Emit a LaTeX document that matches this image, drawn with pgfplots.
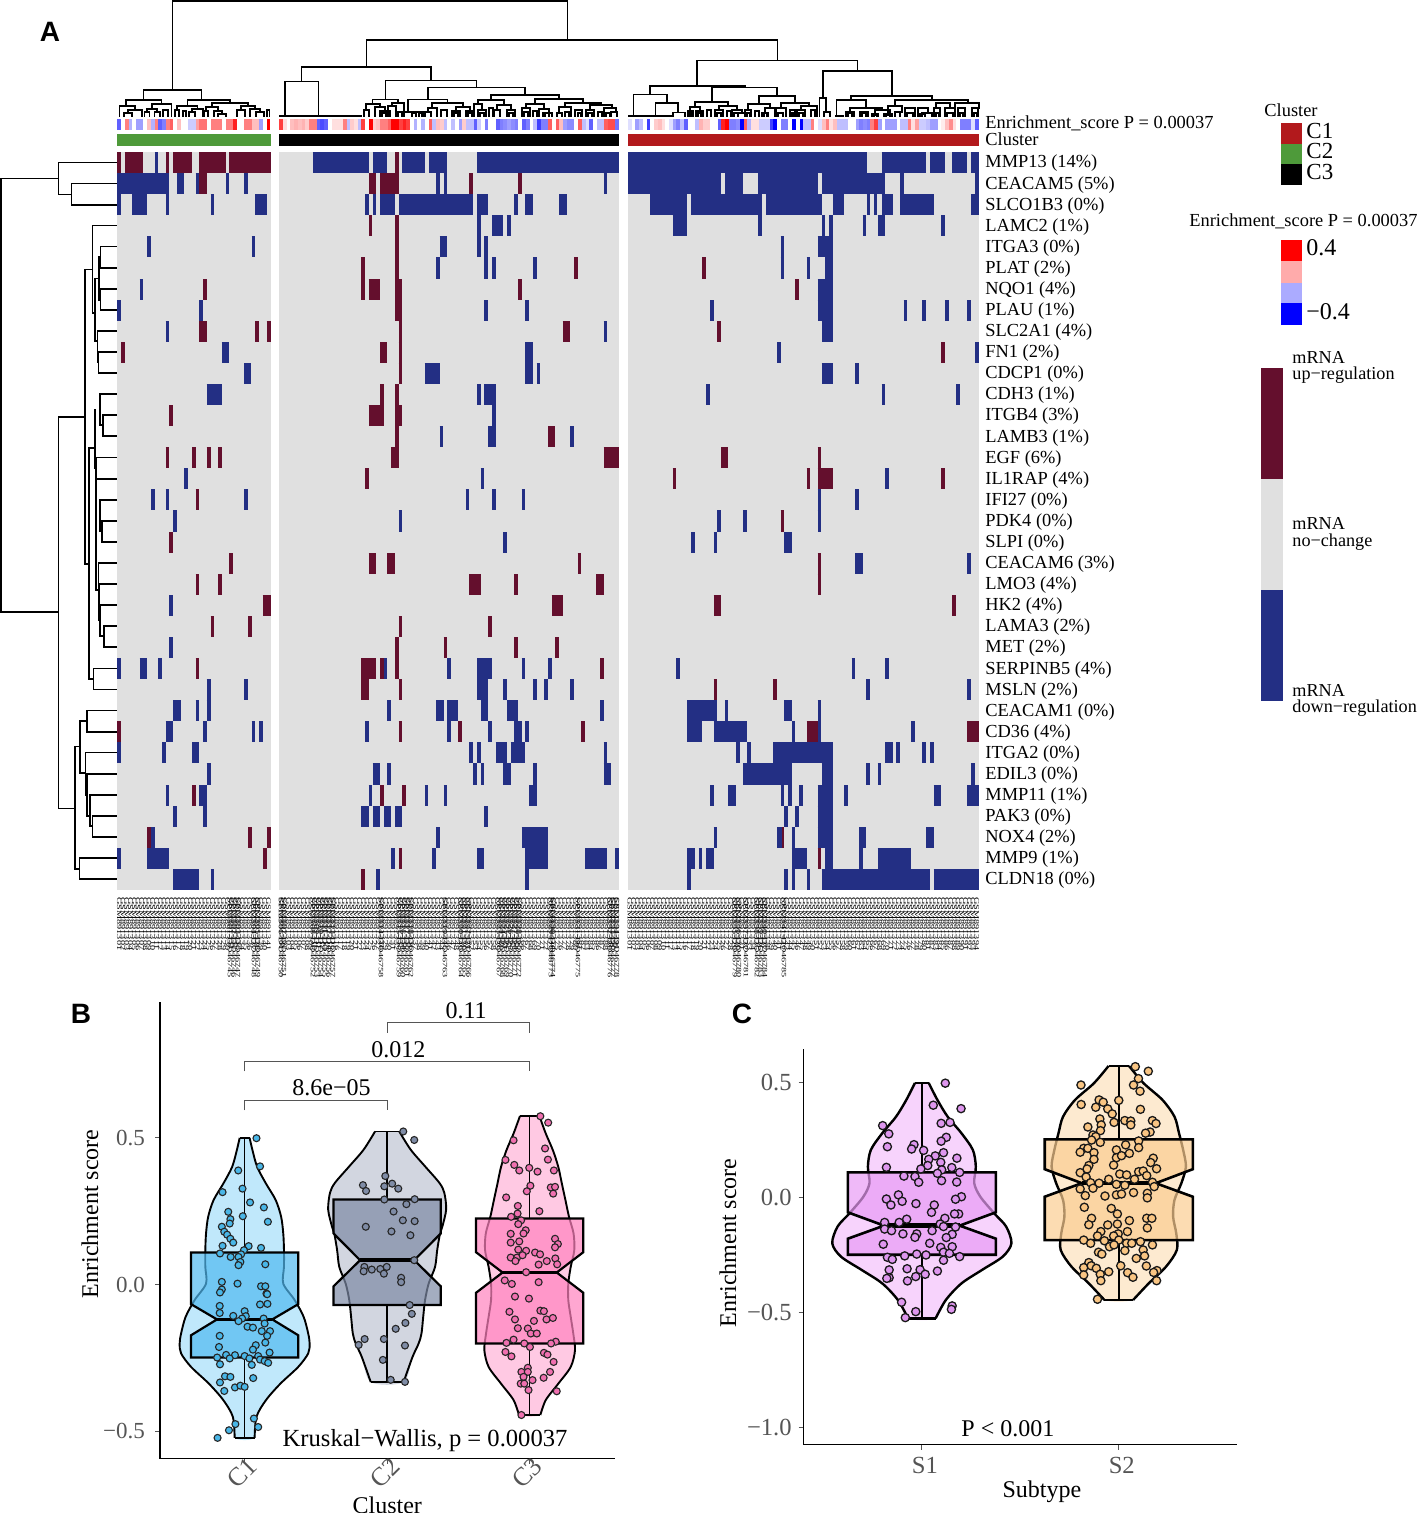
\documentclass[border=0pt]{standalone}
\usepackage{fontspec}
\setmainfont{Liberation Serif}
\newfontfamily\lettersf{Liberation Sans}
\usepackage{pgfplots}
\usepackage{pgfplotstable}
\pgfplotsset{compat=1.18}

\definecolor{dn}{RGB}{35,47,132}
\definecolor{up}{RGB}{100,15,45}
\definecolor{cellbg}{RGB}{224,224,224}
\definecolor{cC1}{RGB}{178,25,28}
\definecolor{cC2}{RGB}{78,154,58}
\definecolor{tickgray}{RGB}{85,85,85}
\definecolor{vA}{RGB}{192,232,251}
\definecolor{bA}{RGB}{80,185,240}
\definecolor{pA}{RGB}{73,182,231}
\definecolor{vB}{RGB}{210,214,224}
\definecolor{bB}{RGB}{125,138,165}
\definecolor{pB}{RGB}{127,140,166}
\definecolor{vC}{RGB}{255,201,227}
\definecolor{bC}{RGB}{255,130,190}
\definecolor{pC}{RGB}{240,112,176}
\definecolor{vS}{RGB}{247,211,252}
\definecolor{bS}{RGB}{232,155,245}
\definecolor{pS}{RGB}{222,150,238}
\definecolor{vT}{RGB}{253,234,208}
\definecolor{bT}{RGB}{251,205,145}
\definecolor{pT}{RGB}{249,197,131}

% heatmap segments: row, from, to (x in thirds of a reference pixel)
\pgfplotstableread[row sep=crcr]{
r a b\\
0 464 475\\0 938 1106\\0 1118 1162\\0 1207 1274\\0 1286 1341\\0 1431 1500\\
1 352 508\\1 531 553\\1 587 598\\1 677 688\\1 733 744\\1 1308 1320\\1 1331 1342\\
2 352 363\\2 397 441\\2 497 508\\2 632 643\\2 766 800\\2 1095 1106\\2 1118 1128\\2 1140 1185\\2 1196 1420\\2 1431 1464\\
3 1431 1442\\3 1476 1500\\
4 441 452\\4 755 766\\4 1319 1341\\4 1431 1442\\4 1453 1464\\
5 1308 1319\\5 1453 1464\\5 1476 1487\\
6 419 430\\
7 352 363\\7 598 609\\7 1453 1464\\
8 497 508\\
9 665 687\\
10 732 754\\10 1274 1319\\
11 620 665\\11 1431 1442\\11 1453 1487\\
12 1476 1487\\
13 1319 1330\\13 1464 1487\\
15 553 564\\15 1442 1453\\
16 453 464\\16 497 508\\16 733 744\\16 1397 1408\\16 1476 1487\\
17 520 531\\17 1196 1207\\
21 508 520\\
23 508 520\\
24 352 363\\24 419 441\\24 475 486\\24 1151 1162\\24 1342 1353\\24 1431 1476\\
25 620 632\\25 733 744\\25 1431 1464\\
26 520 542\\26 587 598\\26 620 632\\26 1162 1173\\26 1308 1331\\26 1342 1375\\26 1442 1464\\
27 497 520\\27 610 620\\27 755 766\\27 777 788\\27 1095 1106\\27 1342 1353\\27 1464 1476\\
28 352 363\\28 486 497\\28 576 598\\28 1408 1419\\28 1431 1442\\28 1487 1500\\
29 620 632\\29 1118 1140\\29 1162 1173\\29 1420 1431\\29 1442 1453\\
30 497 508\\30 598 620\\30 1106 1117\\30 1274 1285\\30 1331 1341\\
31 520 531\\31 610 620\\31 1084 1106\\31 1118 1140\\31 1151 1173\\31 1185 1207\\31 1453 1464\\
32 453 464\\32 1308 1319\\
33 352 363\\33 441 508\\33 1173 1185\\33 1297 1308\\33 1431 1453\\
34 520 598\\34 632 643\\34 1128 1140\\
}\dnL
\pgfplotstableread[row sep=crcr]{
r a b\\
0 352 363\\0 374 430\\0 497 508\\0 520 576\\0 598 677\\0 688 812\\0 1185 1196\\
1 598 620\\1 1106 1128\\1 1140 1196\\1 1408 1420\\
3 1106 1117\\3 1185 1196\\
4 1185 1196\\
5 1084 1095\\5 1185 1196\\
6 610 620\\6 1084 1095\\6 1106 1140\\6 1185 1207\\
7 1185 1207\\
8 598 620\\8 766 777\\8 800 812\\8 1196 1207\\
9 363 374\\9 1140 1162\\9 1196 1207\\
10 1196 1207\\
11 1140 1151\\11 1185 1196\\
12 508 520\\12 1106 1151\\12 1185 1207\\
13 1185 1196\\
14 497 508\\14 576 587\\14 620 632\\14 654 665\\14 1173 1196\\
15 1095 1106\\
16 587 598\\
18 508 520\\
19 688 699\\19 1106 1128\\19 1162 1185\\
20 587 598\\20 654 665\\20 1408 1442\\
21 788 812\\
22 632 643\\22 744 755\\22 1196 1207\\22 1464 1476\\
23 1185 1196\\23 1331 1341\\
24 587 598\\24 1084 1128\\24 1140 1151\\24 1185 1196\\
25 1084 1106\\25 1196 1207\\
27 352 363\\27 1196 1207\\27 1375 1386\\
30 576 587\\30 1140 1151\\30 1207 1218\\
32 441 453\\32 744 755\\32 800 812\\
33 788 800\\33 1196 1207\\
34 1084 1095\\
}\upL
\pgfplotstableread[row sep=crcr]{
r a b\\
0 0 357\\0 384 1100\\0 1145 1278\\0 1290 1335\\0 1357 1402\\0 1413 1436\\
1 311 322\\1 384 663\\1 675 730\\1 775 953\\1 965 1155\\1 1200 1212\\1 1425 1436\\
2 43 54\\2 76 98\\2 177 200\\2 450 562\\2 574 786\\2 797 965\\2 998 1032\\2 1100 1110\\2 1122 1132\\2 1145 1178\\2 1200 1301\\2 1413 1436\\
3 0 9\\3 20 32\\3 518 562\\3 775 786\\3 965 975\\3 988 998\\3 1088 1099\\3 1133 1155\\3 1323 1334\\
4 842 853\\4 953 998\\
5 99 110\\5 842 853\\5 920 931\\5 976 998\\
6 953 998\\
7 76 87\\7 630 641\\7 953 998\\7 1211 1222\\7 1267 1278\\7 1335 1346\\7 1402 1413\\
8 311 322\\8 965 998\\
9 76 98\\9 831 842\\9 1425 1436\\
10 76 98\\10 110 121\\10 965 998\\10 1066 1077\\
11 618 629\\11 1145 1155\\11 1368 1379\\
13 211 222\\
15 1155 1166\\
16 65 76\\16 953 964\\16 1066 1077\\
17 652 663\\17 730 741\\17 953 964\\
18 9 20\\18 574 585\\18 641 652\\18 853 875\\
19 1066 1088\\19 1402 1413\\
24 65 76\\24 144 155\\24 529 540\\24 1055 1066\\24 1155 1166\\
25 9 20\\25 99 110\\25 132 143\\25 211 222\\25 1099 1110\\25 1402 1413\\
26 20 54\\26 300 311\\26 562 650\\26 675 685\\26 853 875\\26 953 964\\
27 43 65\\27 76 87\\27 562 607\\27 641 741\\27 875 886\\27 953 964\\27 1234 1245\\
28 0 20\\28 32 76\\28 311 322\\28 708 719\\28 741 752\\28 820 998\\28 1155 1178\\28 1189 1200\\28 1267 1278\\28 1290 1301\\
29 9 32\\29 99 110\\29 311 334\\29 730 875\\29 965 998\\29 1099 1110\\29 1133 1144\\29 1413 1424\\
30 87 110\\30 630 641\\30 685 708\\30 842 853\\30 864 875\\30 897 908\\30 953 998\\30 1032 1043\\30 1301 1323\\30 1402 1436\\
31 853 864\\31 886 897\\31 953 998\\
32 65 144\\32 641 652\\32 831 845\\32 875 886\\32 953 998\\32 1077 1099\\32 1278 1301\\
33 76 144\\33 255 322\\33 345 357\\33 562 584\\33 596 607\\33 618 641\\33 875 920\\33 976 998\\33 1077 1088\\33 1133 1234\\
34 76 87\\34 562 574\\34 853 864\\34 875 886\\34 920 931\\34 965 1290\\34 1301 1436\\
}\dnR
\pgfplotstableread[row sep=crcr]{
r a b\\
1 54 65\\
5 222 233\\5 607 618\\
6 54 65\\6 886 897\\
8 188 211\\8 652 663\\
9 1323 1334\\
13 144 166\\
14 311 357\\14 663 685\\14 953 964\\
15 518 528\\15 920 931\\15 953 998\\15 1323 1334\\
17 842 853\\
19 233 244\\19 953 964\\
20 43 54\\20 289 311\\20 953 964\\
21 155 188\\21 641 663\\21 1357 1368\\
23 43 54\\23 166 177\\
24 300 311\\
25 641 652\\25 820 831\\
27 244 255\\27 920 953\\27 1402 1436\\
32 845 853\\
33 953 964\\
}\upR

% column dendrogram forks: left x, right x, bar y, end y of left leg, end y of right leg
\pgfplotstableread[row sep=crcr]{
a b t p q\\
172.3 567.3 1 90 40\\
143.3 201.7 90 100 100\\126 161.7 100 106 104\\119.5 135 106 116.5 110\\128 142 110 113 116.5\\124 132 113 116.5 116.5\\
152 171.7 104 109 116.5\\147 157 109 112 112\\144.5 149.5 112 116.5 116.5\\154.5 160 112 116.5 116.5\\163 168 110 116.5 116.5\\
187.3 230 100 106 103\\177 197.5 106 110 109\\175 179 110 116.5 116.5\\192 203 109 112 116.5\\189 195 112 116.5 116.5\\183 186 111 116.5 116.5\\
212 248 103 107 106\\206 218 107 111 111\\204 208 111 116.5 116.5\\214 222 111 116.5 114\\218 226 114 116.5 116.5\\
241 255 106 110 109\\237 245 110 116.5 116.5\\250 260 109 116.5 112\\256 264 112 116.5 116.5\\267 269.5 110 116.5 116.5\\
366.5 777.7 40 67 60.5\\301.5 431 67 81.7 80.5\\285 318.6 81.7 116 116\\280 312 116 116 116\\314 361.7 116 116 116\\
385.7 476.6 80.5 99.5 87.5\\372.7 398 99.5 104 103\\366 380 104 110 107\\364 369 110 116.5 116.5\\375 385 107 116.5 111\\380 390 111 116.5 116.5\\392 404 103 106 116.5\\388 396 106 116.5 116.5\\
428 525 87.5 99.5 95\\408 447.6 99.5 112 103\\404.5 424 112 116.5 116.5\\432 463 103 108 107\\428 437 108 112 116.5\\425 431 112 116.5 116.5\\441 447 110 116.5 116.5\\456 470 107 111 111\\452 460 111 116.5 116.5\\466 474 111 116.5 116.5\\
491 559 95 100 99\\478 504 100 104 105\\474 482 104 116.5 110\\478 486 110 116.5 116.5\\497 511 105 110 110\\494 500 110 116.5 116.5\\507 515 110 116.5 116.5\\489 493 108 116.5 116.5\\
535 583 99 104 103\\526 544 104 108 109\\522 530 108 116.5 116.5\\539 549 109 116.5 113\\543 552 113 116.5 116.5\\565 601 103 107 105\\559 571 107 113 116.5\\557 562 113 116.5 116.5\\
590 612 105 110 108\\586 594 110 116.5 116.5\\604 616 108 116.5 112\\611 617 112 116.5 116.5\\575 582 110 116.5 116.5\\598 602 112 116.5 116.5\\
697 857.7 60.5 86 71\\650 745 86 94.5 87.5\\633.5 667 94.5 116 103\\629 649 116 116 116\\655.7 678 103 116 112.7\\651 672 116 116 116\\673 685 112.7 116.5 116.5\\
712 777 87.5 102 96\\695 728 102 107 106\\690 700 107 111 111\\688 693 111 116.5 116.5\\696 703 111 116.5 116.5\\719 737 106 110 110\\715 723 110 116.5 116.5\\732 742 110 116.5 113\\738 745 113 116.5 116.5\\707 711 110 116.5 116.5\\
759 795 96 104 103\\748 770 104 110 108\\745 751 110 116.5 116.5\\765 775 108 113 116.5\\762 768 113 116.5 116.5\\781 809 103 108 106\\776 786 108 116.5 116.5\\801 817 106 110 116.5\\797 805 110 116.5 116.5\\790 795 110 116.5 116.5\\811 815 110 116.5 116.5\\
823 892 71 98 96\\819.5 826 98 116.5 112\\824 830 112 116.5 116.5\\851 932 96 100 100\\836.7 866 100 116 108\\836 843 116 116 116\\850 882 108 112 110\\846 854 112 116.5 116.5\\875 890 110 114 114\\872 878 114 116.5 116.5\\884 892 114 116.5 116.5\\860 868 112 116.5 116.5\\
895 968 100 106 103\\888 902 106 112 112\\895 900 112 116.5 116.5\\905 915 108 116.5 116.5\\918 928 108 116.5 113\\922 932 113 116.5 116.5\\936 950 103 108 108\\934 940 108 116.5 116.5\\945 955 108 116.5 116.5\\955 979 103 108 108\\958 965 108 116.5 116.5\\972 978 108 116.5 116.5\\
382 386 113 116.5 116.5\\398 402 112 116.5 116.5\\412 416 113 116.5 116.5\\419 422 113 116.5 116.5\\454 458 113 116.5 116.5\\468 472 113 116.5 116.5\\480 484 113 116.5 116.5\\509 513 113 116.5 116.5\\524 528 112 116.5 116.5\\533 537 111 116.5 116.5\\545 549 113 116.5 116.5\\565 569 112 116.5 116.5\\578 581 113 116.5 116.5\\588 592 113 116.5 116.5\\606 610 113 116.5 116.5\\
690 692 113 116.5 116.5\\698 701 113 116.5 116.5\\717 721 113 116.5 116.5\\727 731 111 116.5 116.5\\734 738 113 116.5 116.5\\747 750 113 116.5 116.5\\755 759 111 116.5 116.5\\764 767 113 116.5 116.5\\778 783 113 116.5 116.5\\792 794 113 116.5 116.5\\799 803 113 116.5 116.5\\848 852 113 116.5 116.5\\862 866 113 116.5 116.5\\874 877 115 116.5 116.5\\886 890 115 116.5 116.5\\907 913 113 116.5 116.5\\920 925 114 116.5 116.5\\936 939 113 116.5 116.5\\947 953 113 116.5 116.5\\960 963 113 116.5 116.5\\974 977 113 116.5 116.5\\
}\topfork

% row dendrogram forks: upper y, lower y, bar x, end x of upper leg, end x of lower leg
\pgfplotstableread[row sep=crcr]{
a b t p q\\
178.7 612 1 58.5 58.5\\
162.7 194.7 58.5 117.5 71.7\\
183.7 204.8 71.7 117.5 117.5\\
417 808.3 58.5 85 75\\
269.3 564 85 92.7 89\\
225.7 313 92.7 117.5 95\\
278.3 341 95 99 97.5\\
257 300 99 100.5 100.5\\
246.7 267.8 100.5 117.5 117.5\\
289 310 100.5 117.5 117.5\\
331 362.5 97.5 117.5 98.5\\
352 373 98.5 117.5 117.5\\
448 679 89 95 93.7\\
668.7 689.7 93.7 117.5 117.5\\
410 468 95 95.5 96\\
394 425 100 117.5 103\\
415 436 103 117.5 117.5\\
457.7 479 96 117.5 117.5\\
468 590 96 96.5 98\\
500 531 100 117.5 102\\
521 542 102 117.5 117.5\\
563 600 98.5 117.5 99\\
584 620 99 117.5 100\\
605 636 100 117.5 104\\
626 647 104 117.5 117.5\\
746.7 869 75 80 79.3\\
721 773 80 87 85.7\\
710.7 731.8 87 117.5 117.5\\
752.7 795 85.7 117.5 87\\
774 816 87 117.5 90\\
795 826 90 117.5 92.7\\
816 837 92.7 117.5 117.5\\
858 879 79.3 117.5 117.5\\
}\leftfork

% violin outlines: value, signed half width, down one side and up the other
\pgfplotstableread[row sep=crcr]{
v h\\.500 .035\\.458 .055\\.401 .088\\.344 .150\\.288 .218\\.231 .256\\.174 .271\\.117 .276\\.060 .276\\.003 .271\\-.053 .351\\-.110 .414\\-.167 .446\\-.201 .456\\-.235 .446\\-.281 .376\\-.338 .251\\-.394 .150\\-.451 .083\\-.523 .070\\
-.523 -.070\\-.451 -.083\\-.394 -.150\\-.338 -.251\\-.281 -.376\\-.235 -.446\\-.201 -.456\\-.167 -.446\\-.110 -.414\\-.053 -.351\\.003 -.271\\.060 -.276\\.117 -.276\\.174 -.271\\.231 -.256\\.288 -.218\\.344 -.150\\.401 -.088\\.458 -.055\\.500 -.035\\
}\vioA
\pgfplotstableread[row sep=crcr]{
v h\\.522 .085\\.460 .165\\.403 .266\\.347 .366\\.313 .401\\.256 .414\\.199 .388\\.174 .371\\.117 .351\\.060 .336\\.003 .291\\-.053 .266\\-.110 .253\\-.167 .241\\-.201 .221\\-.247 .178\\-.333 .115\\
-.333 -.115\\-.247 -.178\\-.201 -.221\\-.167 -.241\\-.110 -.253\\-.053 -.266\\.003 -.291\\.060 -.336\\.117 -.351\\.174 -.371\\.199 -.388\\.256 -.414\\.313 -.401\\.347 -.366\\.403 -.266\\.460 -.165\\.522 -.085\\
}\vioB
\pgfplotstableread[row sep=crcr]{
v h\\.575 .068\\.515 .113\\.458 .163\\.401 .201\\.344 .226\\.288 .251\\.231 .276\\.174 .308\\.117 .313\\.060 .288\\.003 .271\\-.053 .271\\-.110 .288\\-.167 .306\\-.224 .318\\-.281 .288\\-.338 .201\\-.394 .113\\-.445 .075\\
-.445 -.075\\-.394 -.113\\-.338 -.201\\-.281 -.288\\-.224 -.318\\-.167 -.306\\-.110 -.288\\-.053 -.271\\.003 -.271\\.060 -.288\\.117 -.313\\.174 -.308\\.231 -.276\\.288 -.251\\.344 -.226\\.401 -.201\\.458 -.163\\.515 -.113\\.575 -.068\\
}\vioC
\pgfplotstableread[row sep=crcr]{
v h\\.500 .035\\.426 .079\\.353 .131\\.281 .201\\.208 .259\\.135 .274\\.063 .266\\.004 .297\\-.068 .367\\-.126 .428\\-.199 .455\\-.257 .411\\-.315 .306\\-.374 .201\\-.446 .122\\-.526 .070\\
-.526 -.070\\-.446 -.122\\-.374 -.201\\-.315 -.306\\-.257 -.411\\-.199 -.455\\-.126 -.428\\-.068 -.367\\.004 -.297\\.063 -.266\\.135 -.274\\.208 -.259\\.281 -.201\\.353 -.131\\.426 -.079\\.500 -.035\\
}\vioS
\pgfplotstableread[row sep=crcr]{
v h\\.574 .052\\.499 .126\\.426 .222\\.353 .283\\.281 .306\\.208 .327\\.135 .341\\.063 .318\\-.010 .283\\-.083 .276\\-.156 .292\\-.228 .295\\-.301 .240\\-.374 .152\\-.446 .073\\
-.446 -.073\\-.374 -.152\\-.301 -.240\\-.228 -.295\\-.156 -.292\\-.083 -.276\\-.010 -.283\\.063 -.318\\.135 -.341\\.208 -.327\\.281 -.306\\.353 -.283\\.426 -.222\\.499 -.126\\.574 -.052\\
}\vioT

% fill first, then each side on its own so that the flat ends keep their corners
\newcommand{\violin}[4]{% centre, table, fill colour, line width
  \addplot[fill=#3,draw=none,smooth,tension=.5] table[x expr=#1+\thisrow{h},y=v]{#2} -- cycle;
  \addplot[draw=black,line width=#4,smooth,tension=.5,restrict expr to domain={\thisrow{h}}{0:1}] table[x expr=#1+\thisrow{h},y=v]{#2};
  \addplot[draw=black,line width=#4,smooth,tension=.5,restrict expr to domain={\thisrow{h}}{-1:0}] table[x expr=#1+\thisrow{h},y=v]{#2};
}
\pgfplotsset{
  panel/.style={
    scale only axis,anchor=south west,
    axis lines=left,axis line style={-,line width=.75pt,black},
    tick align=outside,major tick length=2.5pt,tick style={tickgray,line width=.5pt},
    tick label style={text=tickgray},
    label style={font=\fontsize{12}{14}\selectfont},
    clip=false,
  },
  idaxis/.style={
    at={(0pt,311.5pt)},anchor=south west,scale only axis,width=709pt,height=10pt,
    xmin=0,xmax=1418,ymin=0,ymax=1,axis y line=none,axis x line*=bottom,
    axis line style={draw=none},major tick length=0pt,xticklabel shift=3.5pt,
    xticklabel style={rotate=-90,anchor=west,inner sep=0pt,text=black,font=\fontsize{3.3}{3.3}\selectfont},
  },
  strip/.style={
    scatter,only marks,mark=square*,mark size=1pt,point meta=explicit,
    mark options={xscale=.96,yscale=2.67,draw opacity=0},
    scatter/use mapped color={fill=mapped color},
  },
}
\newcommand{\idtext}{\scalebox{1.55}[1]{GSM89\number\numexpr1301+\ticknum\relax}}
\newcommand{\idlong}{\scalebox{1.55}[1]{SP\number\numexpr12301+\ticknum\relax-DO\number\numexpr46745+\ticknum\relax}}

\begin{document}
\begin{tikzpicture}
\path[use as bounding box] (0,0) rectangle (709pt,756.5pt);

% dendrograms, annotation strips, legends: reference pixel coordinates
\begin{axis}[
  at={(0pt,0pt)},anchor=south west,scale only axis,width=709pt,height=756.5pt,
  xmin=0,xmax=1418,ymin=0,ymax=1513,y dir=reverse,hide axis,clip=false,
  colormap={bwr}{rgb255=(0,0,255) rgb255=(255,255,255) rgb255=(255,0,0)},
  point meta min=-.4,point meta max=.4,
]
\addplot[black,line width=.75pt,line cap=rect,quiver={u=\thisrow{b}-\thisrow{a},v=0}] table[x=a,y=t]{\topfork};
\addplot[black,line width=.75pt,line cap=rect,quiver={u=0,v=\thisrow{p}-\thisrow{t}}] table[x=a,y=t]{\topfork};
\addplot[black,line width=.75pt,line cap=rect,quiver={u=0,v=\thisrow{q}-\thisrow{t}}] table[x=b,y=t]{\topfork};
\addplot[black,line width=.75pt,line cap=rect,quiver={u=0,v=\thisrow{b}-\thisrow{a}}] table[x=t,y=a]{\leftfork};
\addplot[black,line width=.75pt,line cap=rect,quiver={u=\thisrow{p}-\thisrow{t},v=0}] table[x=t,y=a]{\leftfork};
\addplot[black,line width=.75pt,line cap=rect,quiver={u=\thisrow{q}-\thisrow{t},v=0}] table[x=t,y=b]{\leftfork};

% enrichment score strip, one value for each sample
\addplot[strip]
  table[row sep=crcr,x expr=119.3+3.73*\coordindex,y expr=124.6,meta=m]{
m\\-.25\\0\\.2\\-.12\\0\\-.15\\-.15\\0\\.1\\-.12\\.2\\-.25\\-.2\\.2\\.25\\0\\.1\\0\\0\\-.08\\-.08\\.15\\.22\\.22\\0\\.2\\.2\\.2\\0\\.2\\.2\\.35\\0\\0\\.2\\.2\\.1\\.1\\-.15\\0\\.4\\
};
\addplot[strip]
  table[row sep=crcr,x expr=281.2+3.735*\coordindex,y expr=124.6,meta=m]{
m\\.3\\.05\\0\\.1\\.12\\.1\\.12\\.08\\.2\\.2\\-.25\\-.28\\-.25\\0\\.05\\.05\\.05\\.2\\-.1\\.08\\.05\\-.1\\.3\\0\\.4\\.08\\.1\\.2\\.2\\.25\\.4\\.4\\.3\\.35\\.3\\0\\-.12\\0\\-.12\\0\\.25\\-.1\\.1\\.08\\-.1\\0\\-.1\\0\\-.15\\.08\\-.1\\-.1\\-.25\\-.08\\0\\-.2\\0\\0\\-.25\\-.2\\-.18\\-.15\\-.18\\-.2\\0\\-.25\\-.2\\0\\-.1\\-.3\\-.2\\-.2\\.25\\0\\.25\\.1\\-.15\\-.18\\-.18\\0\\.25\\-.1\\-.05\\-.25\\0\\-.1\\-.1\\.25\\.28\\.28\\-.22\\
};
\addplot[strip]
  table[row sep=crcr,x expr=629.9+3.73*\coordindex,y expr=124.6,meta=m]{
m\\-.05\\0\\-.15\\-.1\\0\\-.3\\0\\.08\\.1\\.05\\0\\-.05\\-.15\\-.2\\-.1\\-.25\\0\\0\\-.1\\.12\\.08\\.08\\0\\0\\-.25\\.35\\.4\\-.2\\-.2\\-.18\\-.4\\.25\\-.12\\.05\\.05\\-.08\\-.08\\-.08\\-.3\\-.4\\0\\-.2\\-.2\\0\\-.4\\0\\-.4\\-.1\\-.1\\.2\\0\\-.05\\.1\\.2\\.05\\.1\\-.1\\-.1\\-.1\\0\\0\\-.15\\-.2\\-.18\\-.2\\.2\\.3\\-.15\\0\\-.15\\-.15\\-.15\\0\\-.1\\-.1\\.2\\.05\\.15\\-.08\\-.08\\-.1\\-.15\\-.15\\0\\.03\\.1\\.18\\.05\\0\\-.2\\-.2\\-.2\\-.05\\-.25\\
};

% cluster strip
\addplot[cC2,line width=5.7pt,quiver={u=\thisrow{w},v=0}] table[row sep=crcr,x=x,y=y]{x y w\\117.4 140 153.3\\};
\addplot[black,line width=5.7pt,quiver={u=\thisrow{w},v=0}] table[row sep=crcr,x=x,y=y]{x y w\\279.3 140 339.7\\};
\addplot[cC1,line width=5.7pt,quiver={u=\thisrow{w},v=0}] table[row sep=crcr,x=x,y=y]{x y w\\628 140 350.7\\};

\node[font=\fontsize{9.2}{10}\selectfont,anchor=west,inner sep=0pt] at (985,123.5) {Enrichment\_score P = 0.00037};
\node[font=\fontsize{9.2}{10}\selectfont,anchor=west,inner sep=0pt] at (985,139) {Cluster};

% legends
\node[font=\fontsize{9.2}{10}\selectfont] at (1291,110) {Cluster};
\fill[cC1] (1281,123.5) rectangle (1302,143.9);
\fill[cC2] (1281,143.9) rectangle (1302,164.3);
\fill[black] (1281,164.3) rectangle (1302,185.1);
\node[font=\fontsize{11.5}{12}\selectfont,anchor=west,inner sep=0pt] at (1306,131) {C1};
\node[font=\fontsize{11.5}{12}\selectfont,anchor=west,inner sep=0pt] at (1306,151) {C2};
\node[font=\fontsize{11.5}{12}\selectfont,anchor=west,inner sep=0pt] at (1306,172) {C3};
\node[font=\fontsize{9.2}{10}\selectfont,anchor=west,inner sep=0pt] at (1189,221.5) {Enrichment\_score P = 0.00037};
\fill[red] (1281,240.2) rectangle (1302,261.4);
\fill[red!33] (1281,261.4) rectangle (1302,282.7);
\fill[blue!33] (1281,282.7) rectangle (1302,303.5);
\fill[blue] (1281,303.5) rectangle (1302,324.7);
\node[font=\fontsize{12}{12}\selectfont,anchor=west,inner sep=0pt] at (1306,248) {0.4};
\node[font=\fontsize{12}{12}\selectfont,anchor=west,inner sep=0pt] at (1306,312) {−0.4};
\fill[up] (1261.3,367.6) rectangle (1283.3,478.6);
\fill[cellbg] (1261.3,478.6) rectangle (1283.3,589.6);
\fill[dn] (1261.3,589.6) rectangle (1283.3,701);
\node[font=\fontsize{9.1}{9}\selectfont,anchor=west,inner sep=0pt] at (1292,357.4) {mRNA};
\node[font=\fontsize{9.1}{9}\selectfont,anchor=west,inner sep=0pt] at (1292,375.5) {up−regulation};
\node[font=\fontsize{9.1}{9}\selectfont,anchor=west,inner sep=0pt] at (1292,523.8) {mRNA};
\node[font=\fontsize{9.1}{9}\selectfont,anchor=west,inner sep=0pt] at (1292,542) {no−change};
\node[font=\fontsize{9.1}{9}\selectfont,anchor=west,inner sep=0pt] at (1292,690.8) {mRNA};
\node[font=\fontsize{9.1}{9}\selectfont,anchor=west,inner sep=0pt] at (1292,708.6) {down−regulation};

\node[font=\lettersf\bfseries\fontsize{14}{16}\selectfont] at (50,32) {A};
\node[font=\lettersf\bfseries\fontsize{14}{16}\selectfont] at (81,1014) {B};
\node[font=\lettersf\bfseries\fontsize{14}{16}\selectfont] at (742,1014) {C};
\end{axis}

% heatmap
\begin{axis}[
  at={(0pt,311.5pt)},anchor=south west,scale only axis,width=489.5pt,height=369pt,
  xmin=0,xmax=2937,ymin=-.5,ymax=34.5,y dir=reverse,clip=false,
  axis x line=none,axis y line*=right,axis line style={draw=none},
  major tick length=0pt,xtick=\empty,ytick={0,...,34},
  yticklabels={MMP13 (14\%),CEACAM5 (5\%),SLCO1B3 (0\%),LAMC2 (1\%),ITGA3 (0\%),PLAT (2\%),NQO1 (4\%),PLAU (1\%),SLC2A1 (4\%),FN1 (2\%),CDCP1 (0\%),CDH3 (1\%),ITGB4 (3\%),LAMB3 (1\%),EGF (6\%),IL1RAP (4\%),IFI27 (0\%),PDK4 (0\%),SLPI (0\%),CEACAM6 (3\%),LMO3 (4\%),HK2 (4\%),LAMA3 (2\%),MET (2\%),SERPINB5 (4\%),MSLN (2\%),CEACAM1 (0\%),CD36 (4\%),ITGA2 (0\%),EDIL3 (0\%),MMP11 (1\%),PAK3 (0\%),NOX4 (2\%),MMP9 (1\%),CLDN18 (0\%)},
  yticklabel style={font=\fontsize{9.2}{10}\selectfont,inner sep=0pt,anchor=west,xshift=3pt,yshift=-.5pt},
]
\addplot[fill=cellbg,draw=none] coordinates {(352,-.5)(812,-.5)(812,34.5)(352,34.5)} -- cycle;
\addplot[fill=cellbg,draw=none] coordinates {(838,-.5)(1857,-.5)(1857,34.5)(838,34.5)} -- cycle;
\addplot[fill=cellbg,draw=none] coordinates {(1884,-.5)(2936,-.5)(2936,34.5)(1884,34.5)} -- cycle;
\addplot[dn,line width=10.54pt,quiver={u=\thisrow{b}-\thisrow{a},v=0}] table[x=a,y=r]{\dnL};
\addplot[up,line width=10.54pt,quiver={u=\thisrow{b}-\thisrow{a},v=0}] table[x=a,y=r]{\upL};
\addplot[dn,line width=10.54pt,quiver={u=\thisrow{b}-\thisrow{a},v=0}] table[x expr=\thisrow{a}+1500,y=r]{\dnR};
\addplot[up,line width=10.54pt,quiver={u=\thisrow{b}-\thisrow{a},v=0}] table[x expr=\thisrow{a}+1500,y=r]{\upR};
\end{axis}

% sample names
\begin{axis}[idaxis,xtick={119.3,123.03,...,269},xticklabel={\idtext}]\end{axis}
\begin{axis}[idaxis,xtick={281.2,284.93,...,618},xticklabel={\idtext}]\end{axis}
\begin{axis}[idaxis,xtick={629.9,633.63,...,978},xticklabel={\idtext}]\end{axis}
\begin{axis}[idaxis,xticklabel={\idlong},
  xtick={230,234,238,254,258,281,284,313,317,321,325,329,333,381,399,403,407,411,445,461,465,469,499,503,507,511,515,519,551,553,578,610,613,617,735,739,746,757,761,765,784}]\end{axis}

% panel B
\begin{axis}[panel,at={(80pt,27.15pt)},width=227.3pt,height=228.35pt,
  xmin=.406,xmax=3.596,ymin=-.594,ymax=.9636,
  xtick={1,2,3},xticklabels={C1,C2,C3},
  xticklabel style={rotate=45,anchor=east,xshift=7pt,yshift=-2.5pt,font=\fontsize{13}{14}\selectfont},
  yticklabel style={xshift=-1.5pt,font=\fontsize{11.5}{14}\selectfont},
  ytick={-.5,0,.5},yticklabels={−0.5,0.0,0.5},
  xlabel={Cluster},ylabel={Enrichment score},
  xlabel style={at={(axis description cs:.5,-.101)},anchor=center},
  ylabel style={at={(axis description cs:-.154,.536)},anchor=center},
]
\violin{1}{\vioA}{vA}{.95pt}
\violin{2}{\vioB}{vB}{.95pt}
\violin{3}{\vioC}{vC}{.95pt}
\addplot[black,line width=.95pt] coordinates {(.965,.5)(1.035,.5)};
\addplot[black,line width=.95pt] coordinates {(.93,-.523)(1.07,-.523)};
\addplot[black,line width=.95pt] coordinates {(1.915,.522)(2.085,.522)};
\addplot[black,line width=.95pt] coordinates {(1.885,-.333)(2.115,-.333)};
\addplot[black,line width=.95pt] coordinates {(2.932,.575)(3.068,.575)};
\addplot[black,line width=.95pt] coordinates {(2.925,-.445)(3.075,-.445)};
\addplot[black,line width=.8pt] coordinates {(1,.5)(1,.109)};
\addplot[black,line width=.8pt] coordinates {(1,-.249)(1,-.523)};
\addplot[black,line width=.8pt] coordinates {(2,.522)(2,.29)};
\addplot[black,line width=.8pt] coordinates {(2,-.07)(2,-.333)};
\addplot[black,line width=.8pt] coordinates {(3,.575)(3,.225)};
\addplot[black,line width=.8pt] coordinates {(3,-.201)(3,-.445)};
\addplot[fill=bA,fill opacity=.7,draw=black,line width=1.1pt] coordinates {(.624,.109)(1.376,.109)(1.376,-.067)(1.194,-.119)(1.376,-.173)(1.376,-.249)(.624,-.249)(.624,-.173)(.806,-.119)(.624,-.067)} -- cycle;
\addplot[fill=bB,fill opacity=.7,draw=black,line width=1.1pt] coordinates {(1.624,.29)(2.376,.29)(2.376,.174)(2.19,.083)(2.376,-.006)(2.376,-.07)(1.624,-.07)(1.624,-.006)(1.81,.083)(1.624,.174)} -- cycle;
\addplot[fill=bC,fill opacity=.7,draw=black,line width=1.1pt] coordinates {(2.624,.225)(3.376,.225)(3.376,.11)(3.19,.041)(3.376,-.028)(3.376,-.201)(2.624,-.201)(2.624,-.028)(2.81,.041)(2.624,.11)} -- cycle;
\addplot[black,line width=1.9pt] coordinates {(.806,-.119)(1.194,-.119)};
\addplot[black,line width=1.9pt] coordinates {(1.81,.083)(2.19,.083)};
\addplot[black,line width=1.9pt] coordinates {(2.81,.041)(3.19,.041)};
\addplot[only marks,mark=*,mark size=1.75pt,mark options={fill=pA,draw=black!85,line width=.55pt}] coordinates {
(1.083,.499)(1.108,.403)(.955,.389)(.985,.327)(.845,.315)(1.038,.280)(1.135,.263)(.885,.248)(.900,.223)(.987,.233)(1.163,.214)(.895,.208)(.840,.197)(.857,.180)(.877,.170)(.900,.156)(.920,.143)(.845,.132)(1.028,.131)(1.115,.125)(.995,.117)(.827,.106)(.975,.103)(.902,.094)(.957,.094)(.970,.077)(.957,.066)(1.145,.069)(.840,.009)(.950,.003)(1.115,-.006)(1.145,-.006)(.840,-.017)(.827,-.027)(1.153,-.031)(1.158,-.033)(1.108,-.068)(1.160,-.066)(.825,-.073)(.825,-.097)(1.0,-.091)(.920,-.107)(1.008,-.108)(.982,-.116)(1.133,-.116)(.957,-.125)(1.140,-.133)(1.020,-.144)(1.058,-.147)(1.120,-.159)(1.178,-.159)(.825,-.175)(1.158,-.175)(1.145,-.198)(1.078,-.207)(.820,-.213)(1.058,-.222)(1.175,-.232)(.870,-.240)(.932,-.241)(1.0,-.244)(1.095,-.244)(.807,-.249)(.895,-.252)(1.033,-.252)(1.108,-.256)(1.140,-.261)(1.165,-.267)(.827,-.272)(1.050,-.274)(.862,-.313)(.900,-.315)(1.060,-.319)(.827,-.334)(.932,-.351)(.970,-.345)(1.0,-.349)(.857,-.363)(1.065,-.457)(.935,-.476)(1.095,-.486)(.890,-.497)(.810,-.523)};
\addplot[only marks,mark=*,mark size=1.75pt,mark options={fill=pB,draw=black!85,line width=.55pt}] coordinates {
(2.113,.522)(2.190,.493)(1.987,.370)(1.830,.339)(1.852,.319)(1.980,.335)(2.035,.344)(2.078,.327)(1.980,.290)(2.193,.291)(2.135,.274)(2.045,.249)(2.110,.219)(2.193,.216)(1.850,.197)(2.030,.181)(2.163,.168)(2.190,.083)(1.840,.060)(1.835,.045)(1.892,.051)(1.952,.053)(1.997,.060)(1.977,.037)(2.098,.023)(2.098,.008)(2.158,-.070)(2.173,-.100)(2.128,-.131)(2.060,-.151)(1.842,-.186)(1.977,-.186)(1.800,-.206)(2.125,-.208)(1.970,-.257)(2.025,-.325)(2.125,-.332)};
\addplot[only marks,mark=*,mark size=1.75pt,mark options={fill=pC,draw=black!85,line width=.55pt}] coordinates {
(3.075,.574)(3.130,.552)(2.887,.492)(3.108,.464)(2.830,.425)(3.128,.426)(2.892,.408)(2.997,.398)(3.055,.385)(2.927,.389)(3.170,.389)(3.005,.337)(3.148,.331)(3.178,.333)(2.980,.318)(3.165,.310)(2.835,.297)(2.917,.268)(3.068,.250)(2.915,.242)(2.870,.231)(2.940,.219)(2.920,.206)(2.972,.185)(2.867,.173)(2.957,.174)(2.927,.147)(2.867,.143)(3.178,.156)(3.198,.138)(3.178,.127)(2.920,.119)(2.975,.115)(3.038,.109)(3.073,.103)(2.867,.092)(2.912,.092)(2.950,.100)(2.900,.080)(3.120,.080)(3.180,.089)(3.193,.069)(3.063,.068)(2.975,.042)(2.825,.014)(2.875,.002)(3.063,.008)(2.897,-.041)(2.995,-.048)(2.858,-.093)(3.075,-.089)(3.100,-.091)(2.897,-.119)(3.030,-.124)(3.118,-.119)(3.163,-.114)(2.917,-.149)(2.987,-.150)(3.008,-.167)(3.050,-.167)(2.887,-.188)(2.837,-.199)(2.962,-.201)(3.183,-.195)(3.150,-.201)(3.002,-.213)(2.830,-.230)(2.872,-.245)(3.100,-.233)(3.125,-.239)(3.168,-.264)(2.987,-.284)(2.942,-.298)(2.987,-.298)(3.143,-.298)(2.957,-.315)(3.020,-.326)(3.098,-.318)(2.937,-.338)(2.962,-.338)(2.992,-.360)(3.190,-.364)(2.942,-.445)};
% comparison brackets
\addplot[tickgray,line width=.5pt] coordinates {(1,.594)(1,.628)(2,.628)(2,.594)};
\addplot[tickgray,line width=.5pt] coordinates {(1,.727)(1,.76)(3,.76)(3,.727)};
\addplot[tickgray,line width=.5pt] coordinates {(2,.858)(2,.892)(3,.892)(3,.858)};
\node[font=\fontsize{12}{14}\selectfont] at (1.609,.670) {8.6e−05};
\node[font=\fontsize{12}{14}\selectfont] at (2.078,.801) {0.012};
\node[font=\fontsize{12}{14}\selectfont] at (2.554,.933) {0.11};
\node[font=\fontsize{12.3}{14}\selectfont] at (2.266,-.532) {Kruskal−Wallis, p = 0.00037};
\end{axis}

% panel C
\begin{axis}[panel,at={(401.85pt,34.15pt)},width=216.6pt,height=197.85pt,
  xmin=.4,xmax=2.6,ymin=-1.077,ymax=.648,
  xtick={1,2},xticklabels={S1,S2},
  tick label style={font=\fontsize{12.3}{14}\selectfont},
  xticklabel style={xshift=1.5pt},
  ytick={-1,-.5,0,.5},yticklabels={−1.0,−0.5,0.0,0.5},
  xlabel={Subtype},ylabel={Enrichment score},
  xlabel style={at={(axis description cs:.55,-.119)},anchor=center},
  ylabel style={at={(axis description cs:-.175,.51)},anchor=center},
]
\violin{1}{\vioS}{vS}{1.2pt}
\violin{2}{\vioT}{vT}{1.2pt}
\addplot[black,line width=1.2pt] coordinates {(.965,.5)(1.035,.5)};
\addplot[black,line width=1.2pt] coordinates {(.93,-.526)(1.07,-.526)};
\addplot[black,line width=1.2pt] coordinates {(1.948,.574)(2.052,.574)};
\addplot[black,line width=1.2pt] coordinates {(1.927,-.446)(2.073,-.446)};
\addplot[black,line width=.9pt] coordinates {(1,.5)(1,.11)};
\addplot[black,line width=.9pt] coordinates {(1,-.249)(1,-.526)};
\addplot[black,line width=.9pt] coordinates {(2,.574)(2,.254)};
\addplot[black,line width=.9pt] coordinates {(2,-.185)(2,-.446)};
\addplot[fill=bS,fill opacity=.7,draw=black,line width=1.3pt] coordinates {(.624,.11)(1.376,.11)(1.376,-.064)(1.192,-.122)(1.376,-.179)(1.376,-.249)(.624,-.249)(.624,-.179)(.808,-.122)(.624,-.064)} -- cycle;
\addplot[fill=bT,fill opacity=.7,draw=black,line width=1.3pt] coordinates {(1.624,.254)(2.376,.254)(2.376,.124)(2.188,.063)(2.376,.004)(2.376,-.185)(1.624,-.185)(1.624,.004)(1.812,.063)(1.624,.124)} -- cycle;
\addplot[black,line width=2.2pt] coordinates {(.808,-.122)(1.192,-.122)};
\addplot[black,line width=2.2pt] coordinates {(1.812,.063)(2.188,.063)};
\addplot[only marks,mark=*,mark size=2.05pt,mark options={fill=pS,draw=black!90,line width=.65pt}] coordinates {
(1.119,.499)(1.199,.388)(1.058,.403)(.801,.314)(.832,.278)(1.098,.324)(1.143,.328)(1.124,.263)(1.098,.246)(.825,.222)(.960,.231)(.948,.212)(1.009,.206)(1.110,.196)(1.068,.182)(1.178,.172)(1.035,.167)(1.096,.154)(1.030,.140)(.820,.132)(1.152,.131)(.995,.125)(1.101,.121)(1.192,.110)(1.079,.106)(.909,.094)(.965,.092)(1.100,.074)(.984,.067)(1.177,.068)(1.201,.004)(.881,.012)(1.171,-.007)(.820,-.006)(.900,-.016)(.843,-.032)(.970,-.026)(1.063,-.032)(1.049,-.064)(1.187,-.071)(1.166,-.071)(1.117,-.090)(.811,-.108)(.923,-.094)(.885,-.108)(1.093,-.115)(1.110,-.126)(1.171,-.128)(.811,-.137)(.846,-.144)(1.052,-.144)(.904,-.158)(.974,-.158)(.965,-.173)(1.154,-.160)(1.124,-.174)(.804,-.203)(1.040,-.199)(1.096,-.217)(1.154,-.214)(1.110,-.238)(1.140,-.243)(.974,-.246)(1.021,-.250)(.913,-.254)(1.192,-.257)(.825,-.260)(.850,-.269)(1.110,-.273)(.834,-.315)(.925,-.310)(.991,-.314)(1.079,-.320)(1.017,-.334)(.969,-.344)(.834,-.349)(.822,-.352)(.927,-.363)(.897,-.456)(.969,-.497)(1.154,-.472)(1.150,-.487)(.916,-.523)};
\addplot[only marks,mark=*,mark size=2.05pt,mark options={fill=pT,draw=black!90,line width=.65pt}] coordinates {
(2.084,.571)(2.150,.551)(2.100,.519)(1.808,.491)(2.075,.491)(2.108,.464)(2.000,.424)(1.809,.406)(1.900,.426)(1.921,.416)(1.883,.394)(1.944,.387)(2.110,.385)(1.967,.365)(1.904,.343)(1.976,.328)(2.031,.336)(2.061,.334)(2.061,.317)(2.171,.336)(2.189,.323)(1.843,.308)(1.911,.317)(1.907,.292)(2.159,.286)(2.136,.281)(1.869,.273)(1.883,.266)(1.862,.251)(1.906,.241)(2.101,.247)(2.035,.230)(2.101,.218)(1.822,.215)(1.843,.215)(1.988,.208)(1.804,.198)(1.874,.196)(2.054,.193)(1.988,.174)(1.874,.167)(2.175,.172)(2.014,.183)(2.162,.153)(1.974,.142)(1.848,.140)(1.839,.125)(2.192,.126)(2.101,.113)(2.124,.116)(1.804,.109)(2.005,.103)(2.040,.099)(2.142,.096)(1.834,.090)(1.949,.080)(2.080,.080)(2.171,.067)(1.857,.065)(1.900,.063)(1.988,.058)(2.031,.054)(2.180,.048)(1.804,.038)(1.869,.041)(2.075,.022)(2.145,.019)(1.988,.012)(2.014,.016)(1.830,.009)(1.930,.007)(2.145,-.001)(1.825,-.042)(1.962,-.047)(1.993,-.071)(1.862,-.090)(2.142,-.090)(2.168,-.090)(2.054,-.100)(1.848,-.118)(1.944,-.119)(1.993,-.115)(2.145,-.132)(1.909,-.148)(2.044,-.148)(1.997,-.158)(1.892,-.167)(1.974,-.167)(1.822,-.185)(1.927,-.188)(2.000,-.185)(2.040,-.199)(2.066,-.199)(2.110,-.192)(1.857,-.199)(1.953,-.214)(1.976,-.206)(2.171,-.206)(2.124,-.228)(2.031,-.231)(1.897,-.238)(1.914,-.246)(2.131,-.254)(2.089,-.265)(1.848,-.283)(1.822,-.305)(1.860,-.297)(2.010,-.297)(2.140,-.298)(1.886,-.308)(1.949,-.323)(2.194,-.318)(2.045,-.327)(2.177,-.326)(1.822,-.337)(1.906,-.334)(2.072,-.347)(1.909,-.362)(2.192,-.362)(1.892,-.443)};
\node[font=\fontsize{12}{14}\selectfont] at (1.437,-1.009) {P < 0.001};
\end{axis}
\end{tikzpicture}
\end{document}
